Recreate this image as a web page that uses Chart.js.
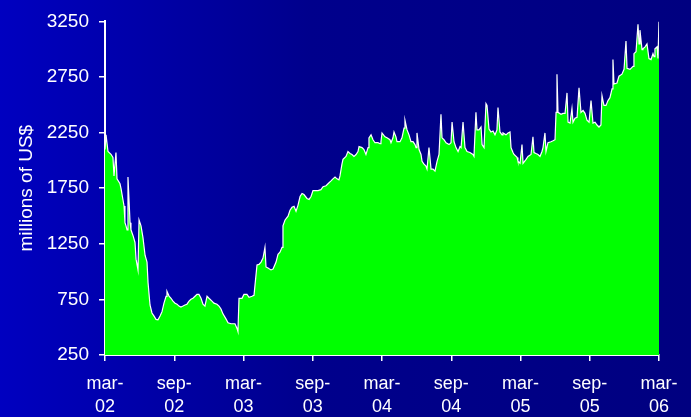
<!DOCTYPE html>
<html>
<head>
<meta charset="utf-8">
<script src="https://cdn.jsdelivr.net/npm/chart.js@4.4.1/dist/chart.umd.min.js"></script>
<style>
  html, body { margin: 0; padding: 0; background: #0000a0; }
  #wrap { width: 691px; height: 417px; position: relative; }
</style>
</head>
<body>
<div id="wrap"><canvas id="line"></canvas></div>
<script>
// months since mar-02 (0 .. 48)
var months = [
  0, 0.09, 0.26, 0.52, 0.69, 0.78, 0.95, 1.04, 1.30, 1.39, 1.65, 1.73, 1.82, 1.91, 1.99,
  2.17, 2.25, 2.43, 2.60, 2.69, 2.86, 2.95, 3.12, 3.29, 3.47, 3.64, 3.73, 3.90, 4.07, 4.25,
  4.42, 4.59, 4.77, 4.94, 5.11, 5.29, 5.37, 5.55, 5.72, 5.89, 6.07, 6.24, 6.41, 6.58, 6.76,
  6.93, 7.10, 7.28, 7.45, 7.62, 7.80, 7.97, 8.14, 8.32, 8.49, 8.66, 8.84, 9.01, 9.27, 9.44,
  9.70, 9.88, 10.05, 10.22, 10.48, 10.66, 10.92, 11.09, 11.26, 11.44, 11.52, 11.61, 11.87, 12.04, 12.30,
  12.48, 12.74, 12.91, 13.00, 13.17, 13.34, 13.52, 13.69, 13.86, 13.95, 14.12, 14.38, 14.56, 14.82, 14.99,
  15.16, 15.34, 15.42, 15.60, 15.86, 16.03, 16.20, 16.38, 16.55, 16.72, 16.90, 17.07, 17.24, 17.50, 17.68,
  17.85, 18.02, 18.28, 18.46, 18.71, 18.89, 19.15, 19.32, 19.58, 19.75, 19.93, 20.10, 20.27, 20.36, 20.53,
  20.62, 20.88, 21.05, 21.23, 21.40, 21.57, 21.75, 21.92, 22.01, 22.27, 22.44, 22.61, 22.79, 22.87, 23.05,
  23.22, 23.39, 23.65, 23.83, 23.91, 24.00, 24.26, 24.43, 24.69, 24.78, 24.95, 25.04, 25.21, 25.30, 25.56,
  25.73, 25.91, 25.99, 26.17, 26.34, 26.51, 26.69, 26.86, 26.95, 27.03, 27.21, 27.38, 27.47, 27.64, 27.81,
  27.90, 28.07, 28.25, 28.42, 28.59, 28.77, 28.94, 29.11, 29.20, 29.37, 29.55, 29.81, 29.98, 30.07, 30.24,
  30.41, 30.59, 30.76, 30.85, 31.02, 31.19, 31.37, 31.62, 31.88, 31.97, 32.14, 32.23, 32.40, 32.58, 32.67,
  32.84, 33.01, 33.10, 33.27, 33.44, 33.62, 33.79, 33.96, 34.05, 34.22, 34.40, 34.48, 34.74, 34.92, 35.09,
  35.18, 35.35, 35.44, 35.70, 35.78, 35.96, 36.13, 36.22, 36.48, 36.65, 36.91, 37.08, 37.17, 37.34, 37.52,
  37.69, 37.86, 37.95, 38.12, 38.21, 38.38, 38.64, 38.82, 38.99, 39.08, 39.16, 39.25, 39.51, 39.68, 39.86,
  40.03, 40.12, 40.29, 40.46, 40.55, 40.72, 40.90, 41.07, 41.24, 41.42, 41.59, 41.76, 41.94, 42.11, 42.28,
  42.46, 42.63, 42.80, 42.97, 43.06, 43.23, 43.41, 43.58, 43.75, 43.93, 44.01, 44.10, 44.36, 44.53, 44.79,
  44.97, 45.14, 45.23, 45.49, 45.75, 45.83, 46.01, 46.18, 46.27, 46.35, 46.53, 46.61, 46.79, 46.96, 47.13,
  47.31, 47.48, 47.57, 47.65, 47.83, 47.91, 48.00
];

// millions of US$
var values = [
  2098, 2230, 2080, 2055, 2027, 1860, 2070, 1834, 1790, 1746, 1590, 1440, 1411, 1376, 1851,
  1440, 1376, 1323, 1262, 1112, 1015, 1464, 1411, 1306, 1147, 1086, 900, 700, 628, 600,
  570, 567, 600, 640, 716, 778, 822, 780, 760, 734, 716, 707, 690, 681, 690,
  699, 707, 734, 751, 760, 778, 795, 795, 760, 707, 690, 778, 760, 734, 716,
  707, 690, 664, 620, 575, 540, 531, 531, 531, 488, 461, 760, 760, 795, 795,
  769, 778, 787, 883, 1059, 1065, 1086, 1121, 1218, 1042, 1033, 1015, 1024, 1086, 1156,
  1174, 1218, 1411, 1464, 1499, 1552, 1578, 1587, 1543, 1596, 1675, 1702, 1693, 1658, 1649,
  1675, 1728, 1728, 1728, 1737, 1763, 1772, 1790, 1816, 1834, 1851, 1834, 1825, 1860, 1966,
  2010, 2036, 2080, 2062, 2053, 2036, 2053, 2080, 2124, 2115, 2098, 2053, 2115, 2203, 2230,
  2186, 2159, 2159, 2150, 2168, 2247, 2212, 2203, 2186, 2159, 2203, 2256, 2212, 2168, 2168,
  2203, 2291, 2362, 2274, 2230, 2168, 2168, 2142, 2115, 2247, 2098, 2053, 1992, 1966, 1948,
  1922, 2115, 1922, 1922, 1904, 1992, 2053, 2414, 2203, 2186, 2159, 2142, 2159, 2344, 2168,
  2115, 2080, 2124, 2115, 2344, 2115, 2080, 2071, 2053, 2036, 2432, 2274, 2274, 2300, 2142,
  2115, 2511, 2494, 2282, 2256, 2265, 2230, 2274, 2476, 2256, 2230, 2247, 2230, 2247, 2256,
  2115, 2071, 2053, 2027, 1992, 1974, 2142, 1974, 2010, 2036, 2053, 2212, 2071, 2062, 2053,
  2036, 2080, 2115, 2247, 2080, 2159, 2168, 2177, 2186, 2432, 2775, 2432, 2414, 2423, 2423,
  2607, 2344, 2335, 2467, 2344, 2380, 2388, 2652, 2432, 2450, 2423, 2362, 2344, 2538, 2335,
  2344, 2318, 2300, 2318, 2582, 2494, 2494, 2538, 2564, 2643, 2907, 2687, 2696, 2757, 2775,
  2819, 3074, 2828, 2819, 2845, 2960, 2977, 3224, 3048, 3171, 2995, 3004, 3021, 3048, 2916,
  2907, 2960, 2933, 3004, 3021, 2916, 3250
];

// x tick labels, one every 6 months
var tickLabels = [
  ['mar-', '02'], ['sep-', '02'], ['mar-', '03'], ['sep-', '03'], ['mar-', '04'],
  ['sep-', '04'], ['mar-', '05'], ['sep-', '05'], ['mar-', '06']
];

var points = months.map(function (m, i) { return { x: m, y: values[i] }; });

// blue background, bright on the left, navy on the right
var bgPlugin = {
  id: 'bg',
  beforeDraw: function (chart) {
    var ctx = chart.ctx;
    var g = ctx.createLinearGradient(0, 0, chart.width, 0);
    g.addColorStop(0, '#0000c0');
    g.addColorStop(0.45, '#00008c');
    g.addColorStop(1, '#000080');
    ctx.save();
    ctx.fillStyle = g;
    ctx.fillRect(0, 0, chart.width, chart.height);
    ctx.restore();
  }
};

var fam = 'Arial, "Liberation Sans", sans-serif';

var line = document.getElementById('line');
var lineConfig = new Chart(line, {
  type: 'line',
  data: {
    datasets: [{
      data: points,
      borderColor: '#ffffff',
      borderWidth: 1.2,
      backgroundColor: '#00ff00',
      fill: 'start',
      pointRadius: 0,
      tension: 0
    }]
  },
  options: {
    responsive: true,
    maintainAspectRatio: false,
    animation: false,
    layout: { padding: { top: 14, right: 32, left: 0, bottom: 0 } },
    plugins: { legend: { display: false }, tooltip: { enabled: false } },
    scales: {
      x: {
        type: 'linear',
        min: 0,
        max: 48,
        afterFit: function (s) { s.height = 62; },
        border: { color: '#ffffff', width: 2 },
        grid: { drawOnChartArea: false, color: '#ffffff', lineWidth: 1.5, tickLength: 6 },
        ticks: {
          stepSize: 6,
          color: '#ffffff',
          font: { family: fam, size: 18, lineHeight: 1.25 },
          padding: 12,
          maxRotation: 0,
          autoSkip: false,
          callback: function (v, i) { return tickLabels[i]; }
        }
      },
      y: {
        min: 250,
        max: 3250,
        afterFit: function (s) { s.width = 105; },
        border: { color: '#ffffff', width: 2 },
        grid: { drawOnChartArea: false, color: '#ffffff', lineWidth: 1.5, tickLength: 6 },
        ticks: {
          stepSize: 500,
          color: '#ffffff',
          font: { family: fam, size: 19 },
          padding: 10,
          callback: function (v) { return String(v); }
        },
        title: {
          display: true,
          text: 'millions of US$',
          color: '#ffffff',
          font: { family: fam, size: 19 },
          padding: { top: 15, bottom: 0 }
        }
      }
    }
  },
  plugins: [bgPlugin]
});
</script>
</body>
</html>
